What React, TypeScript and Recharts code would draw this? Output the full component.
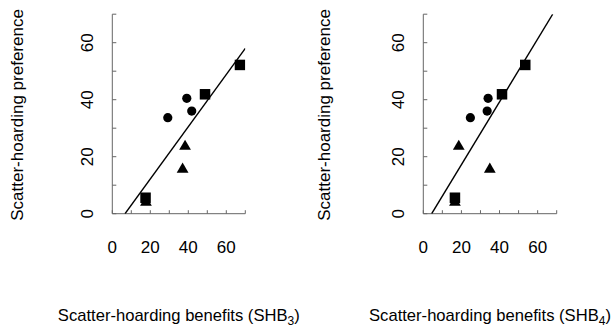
import React from 'react';
import { ScatterChart, Scatter, XAxis, YAxis } from 'recharts';

const FONT = '"Liberation Sans", Arial, sans-serif';
const AXIS_COLOR = '#666';

// ticks every 10, labels every 20
const axisTicks = [0, 10, 20, 30, 40, 50, 60, 70];

// panel 1: SHB3
const circles3 = [
  { x: 29.2, y: 33.7 },
  { x: 39.2, y: 40.5 },
  { x: 41.8, y: 36.0 },
];
const triangles3 = [
  { x: 38.3, y: 23.6 },
  { x: 37.0, y: 15.6 },
  { x: 17.7, y: 4.0 },
];
const squares3 = [
  { x: 17.5, y: 5.6 },
  { x: 48.8, y: 41.9 },
  { x: 67.2, y: 52.2 },
];
const fit3 = [
  { x: 6.7, y: 0 },
  { x: 70, y: 58 },
];

// panel 2: SHB4
const circles4 = [
  { x: 24.7, y: 33.7 },
  { x: 34.0, y: 40.5 },
  { x: 33.5, y: 36.0 },
];
const triangles4 = [
  { x: 18.6, y: 23.6 },
  { x: 34.9, y: 15.6 },
  { x: 16.6, y: 4.0 },
];
const squares4 = [
  { x: 16.6, y: 5.6 },
  { x: 41.3, y: 41.9 },
  { x: 53.5, y: 52.2 },
];
const fit4 = [
  { x: 4.4, y: 0 },
  { x: 67.9, y: 70 },
];

const Square = (p: any) => <rect x={p.cx - 5.25} y={p.cy - 5.25} width={10.5} height={10.5} fill="#000" />;
const Dot = (p: any) => <circle cx={p.cx} cy={p.cy} r={4.6} fill="#000" />;
const Triangle = (p: any) => {
  const h = 3.4;
  const w = Math.sqrt(3) * h;
  return <polygon points={`${p.cx},${p.cy - 2 * h} ${p.cx - w},${p.cy + h} ${p.cx + w},${p.cy + h}`} fill="#000" />;
};
const NoDot = () => <g />;

function XTick({ x, y, payload }: any) {
  const v = payload.value;
  return (
    <g>
      <line x1={x} x2={x} y1={y} y2={y - 3.5} stroke={AXIS_COLOR} />
      {v % 20 === 0 && (
        <text x={x} y={y + 39} textAnchor="middle" fontSize={17} fontFamily={FONT} fill="#000">
          {v}
        </text>
      )}
    </g>
  );
}

function YTick({ x, y, payload }: any) {
  const v = payload.value;
  const tx = x - 19.6;
  return (
    <g>
      <line x1={x} x2={x + 4} y1={y} y2={y} stroke={AXIS_COLOR} />
      {v % 20 === 0 && (
        <text x={tx} y={y} transform={`rotate(-90, ${tx}, ${y})`} textAnchor="middle" fontSize={17} fontFamily={FONT} fill="#000">
          {v}
        </text>
      )}
    </g>
  );
}

type PanelProps = {
  circles: { x: number; y: number }[];
  triangles: { x: number; y: number }[];
  squares: { x: number; y: number }[];
  fit: { x: number; y: number }[];
  sub: string;
  left: number;
  right: number;
  yTitleOffset: number;
};

const Y_AXIS_W = 40;
const X_AXIS_H = 40;

function Panel({ circles, triangles, squares, fit, sub, left, right, yTitleOffset }: PanelProps) {
  return (
    <ScatterChart width={307} height={329} margin={{ top: 14.2, left: left - Y_AXIS_W, right, bottom: 115.3 - X_AXIS_H }}>
      <XAxis
        type="number"
        dataKey="x"
        domain={[0, 70]}
        ticks={axisTicks}
        interval={0}
        height={X_AXIS_H}
        tickSize={0}
        tickMargin={0}
        tick={<XTick />}
        tickLine={false}
        axisLine={{ stroke: AXIS_COLOR }}
        allowDataOverflow
        label={(p: any) => (
          <text
            x={p.viewBox.x + p.viewBox.width / 2}
            y={p.viewBox.y + 107}
            textAnchor="middle"
            fontSize={16.6}
            fontFamily={FONT}
            fill="#000"
          >
            Scatter-hoarding benefits (SHB
            <tspan dy={4} fontSize={12}>{sub}</tspan>
            <tspan dy={-4}>)</tspan>
          </text>
        )}
      />
      <YAxis
        type="number"
        dataKey="y"
        domain={[0, 70]}
        ticks={axisTicks}
        interval={0}
        width={Y_AXIS_W}
        tickSize={0}
        tickMargin={0}
        tick={<YTick />}
        tickLine={false}
        axisLine={{ stroke: AXIS_COLOR }}
        allowDataOverflow
        label={(p: any) => {
          const tx = p.viewBox.x + p.viewBox.width - yTitleOffset;
          const ty = p.viewBox.y + p.viewBox.height / 2 + 1;
          return (
            <text x={tx} y={ty} transform={`rotate(-90, ${tx}, ${ty})`} textAnchor="middle" fontSize={17} fontFamily={FONT} fill="#000">
              Scatter-hoarding preference
            </text>
          );
        }}
      />
      <Scatter data={fit} line={{ stroke: '#000', strokeWidth: 1.4 }} shape={NoDot} isAnimationActive={false} />
      <Scatter data={circles} shape={Dot} isAnimationActive={false} />
      <Scatter data={triangles} shape={Triangle} isAnimationActive={false} />
      <Scatter data={squares} shape={Square} isAnimationActive={false} />
    </ScatterChart>
  );
}

export default function App() {
  return (
    <div style={{ position: 'absolute', left: 0, top: 0, width: 614, height: 329, background: '#fff' }}>
      <div style={{ position: 'absolute', left: 0, top: 0 }}>
        <Panel circles={circles3} triangles={triangles3} squares={squares3} fit={fit3} sub="3" left={112.3} right={61.7} yTitleOffset={89.3} />
      </div>
      <div style={{ position: 'absolute', left: 307, top: 0 }}>
        <Panel circles={circles4} triangles={triangles4} squares={squares4} fit={fit4} sub="4" left={116.3} right={57.3} yTitleOffset={93.3} />
      </div>
    </div>
  );
}
